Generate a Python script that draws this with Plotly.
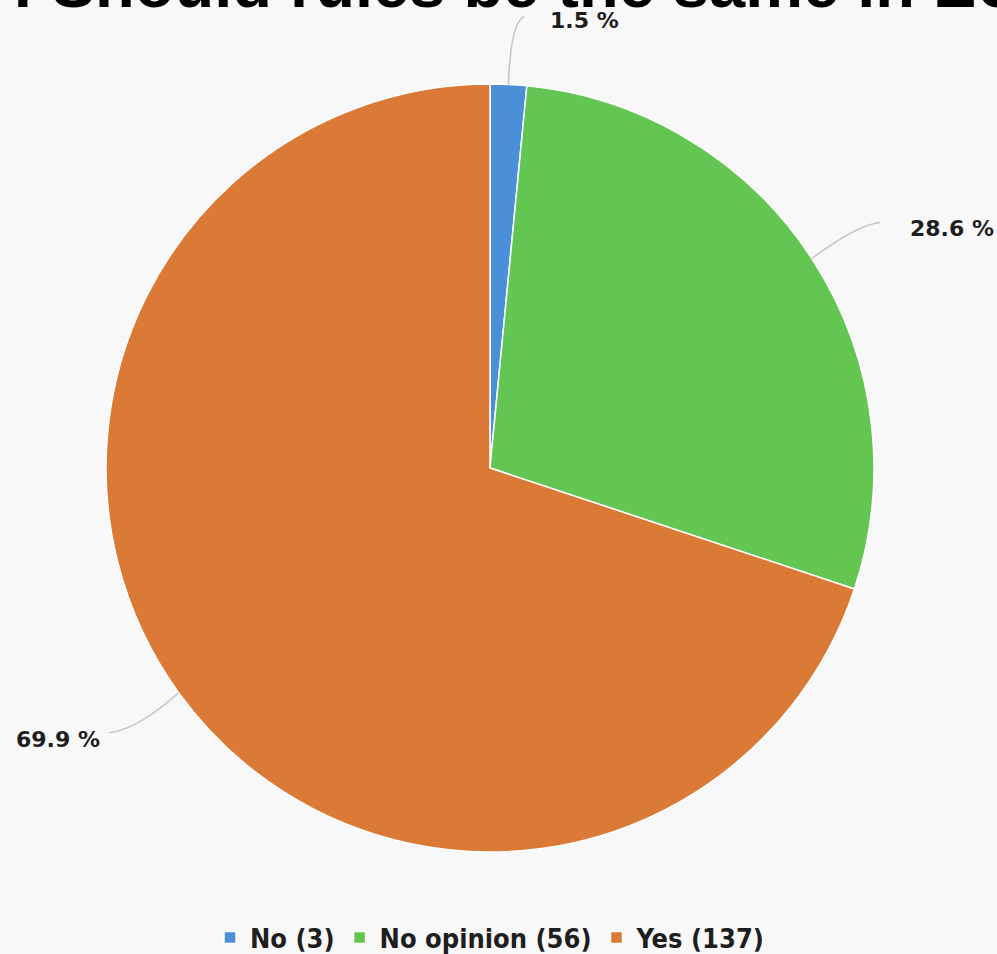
import math
import plotly.graph_objects as go

# ---- data ----
categories = ["No", "No opinion", "Yes"]
counts = [3, 56, 137]
slice_colors = ["#4b8fd9", "#63c653", "#da7a36"]
title_text = ": Should rules be the same in EU"

# ---- layout geometry (style) ----
W, H = 997, 954
M_L, M_R, M_T, M_B = 106, 123, 84, 102
S = W - M_L - M_R  # plot square side
R = S / 2
CX, CY = M_L + R, M_T + R

def to_paper(xp, yp):
    return (xp - M_L) / S, (M_T + S - yp) / S

# leader-line style offsets (pixels, relative to slice edge point): control, end, label, anchor
leader_style = [
    dict(ctrl=(2, -62), end=(16, -68), label=(40, -64), anchor="left"),
    dict(ctrl=(46, -34), end=(68, -36), label=(96, -30), anchor="left"),
    dict(ctrl=(-40, 36), end=(-69, 40), label=(-77, 47), anchor="right"),
]

total = sum(counts)
labels = [f"{c} ({v})" for c, v in zip(categories, counts)]

fig = go.Figure(go.Pie(
    labels=labels,
    values=counts,
    sort=False,
    direction="clockwise",
    rotation=0,
    marker=dict(colors=slice_colors, line=dict(color="white", width=1.5)),
    textinfo="none",
    hoverinfo="label+percent",
    domain=dict(x=[0, 1], y=[0, 1]),
))

shapes = []
annotations = []
cum = 0
for i, v in enumerate(counts):
    theta = 2 * math.pi * (cum + v / 2) / total
    cum += v
    px = CX + R * math.sin(theta)
    py = CY - R * math.cos(theta)
    st = leader_style[i]
    p0 = to_paper(px, py)
    pc = to_paper(px + st["ctrl"][0], py + st["ctrl"][1])
    pe = to_paper(px + st["end"][0], py + st["end"][1])
    shapes.append(dict(
        type="path", xref="paper", yref="paper",
        path=f"M {p0[0]},{p0[1]} Q {pc[0]},{pc[1]} {pe[0]},{pe[1]}",
        line=dict(color="#c4c4c4", width=1.5),
    ))
    lx, ly = to_paper(px + st["label"][0], py + st["label"][1])
    annotations.append(dict(
        x=lx, y=ly, xref="paper", yref="paper",
        text=f"{100 * v / total:.1f} %", showarrow=False,
        xanchor=st["anchor"], yanchor="middle",
        font=dict(family="DejaVu Sans", size=22, color="#1e1e1e", weight="bold"),
    ))

# cropped title
tx, ty = to_paper(10, 23)
annotations.append(dict(
    x=tx, y=ty, xref="paper", yref="paper", text=title_text, showarrow=False,
    xanchor="left", yanchor="bottom",
    font=dict(family="Liberation Sans", size=65, color="#000000", weight="bold"),
))

fig.update_layout(
    width=W, height=H,
    margin=dict(l=M_L, r=M_R, t=M_T, b=M_B, autoexpand=False),
    paper_bgcolor="#f8f8f8",
    plot_bgcolor="#f8f8f8",
    shapes=shapes,
    annotations=annotations,
    showlegend=True,
    legend=dict(
        orientation="h", x=(490 - M_L) / S, y=(H - 938) / H,
        xanchor="center", yanchor="middle", yref="container",
        font=dict(family="DejaVu Sans Condensed", size=27, color="#1e1e1e", weight="bold"),
        bgcolor="rgba(0,0,0,0)",
    ),
)

fig.write_html("out.html")
